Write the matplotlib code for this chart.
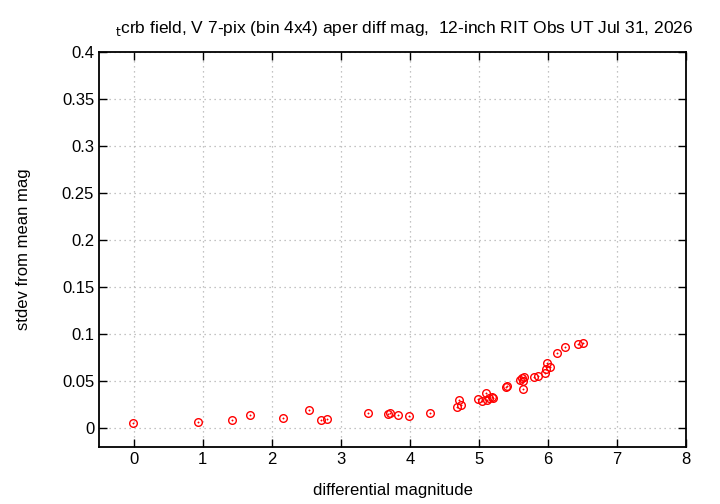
import matplotlib
matplotlib.use("Agg")
import matplotlib.pyplot as plt

plt.rcParams['font.family'] = ['Liberation Sans', 'DejaVu Sans']

diff_mag = [-0.01, 0.93, 1.43, 1.69, 2.17, 2.54, 2.72, 2.80,
            3.39, 3.69, 3.71, 3.83, 3.99, 4.30,
            4.69, 4.72, 4.74,
            4.99, 5.04, 5.10, 5.12, 5.15, 5.19, 5.21,
            5.40, 5.41,
            5.60, 5.63, 5.64, 5.65, 5.64,
            5.80, 5.85, 5.96, 5.97, 6.03, 5.99,
            6.13, 6.25, 6.44, 6.51]
stdev = [0.0056, 0.0067, 0.0085, 0.0135, 0.0103, 0.0195, 0.0085, 0.0096,
         0.0156, 0.0145, 0.0156, 0.0138, 0.0128, 0.0156,
         0.0227, 0.0298, 0.0245,
         0.0309, 0.0285, 0.0369, 0.0300, 0.0320, 0.0333, 0.0315,
         0.0439, 0.0445,
         0.0510, 0.0535, 0.0500, 0.0545, 0.0420,
         0.0546, 0.0553, 0.0581, 0.0624, 0.0646, 0.0695,
         0.0801, 0.0858, 0.0890, 0.0907]

xticks = [0, 1, 2, 3, 4, 5, 6, 7, 8]
yticks = [0, 0.05, 0.1, 0.15, 0.2, 0.25, 0.3, 0.35, 0.4]
ytick_labels = ['0', '0.05', '0.1', '0.15', '0.2', '0.25', '0.3', '0.35', '0.4']

fig = plt.figure(figsize=(7.2, 5.04), dpi=100)
ax = fig.add_axes([0.1375, 0.1135, 0.8153, 0.7833])

ax.plot(diff_mag, stdev, linestyle='none', marker='o', markersize=5.5,
        markerfacecolor='none', markeredgecolor='#ff0000', markeredgewidth=1.0)
ax.plot(diff_mag, stdev, linestyle='none', marker='o', markersize=1.0,
        markerfacecolor='#ff0000', markeredgecolor='#ff0000', markeredgewidth=0.3)

ax.set_xlim(-0.5, 8)
ax.set_ylim(-0.02, 0.4)
ax.set_xticks(xticks)
ax.set_xticklabels([str(t) for t in xticks])
ax.set_yticks(yticks)
ax.set_yticklabels(ytick_labels)
ax.tick_params(direction='in', top=True, right=True, labelsize=12, length=6, width=1)
ax.grid(True, color='#b0b0b0', linestyle=(0, (1, 3)), linewidth=0.9)
for s in ax.spines.values():
    s.set_linewidth(1.3)

ax.set_xlabel('differential magnitude', fontsize=12, labelpad=12)
ax.set_ylabel('stdev from mean mag', fontsize=12, labelpad=22)
fig.text(404 / 720, 1 - 28 / 504,
         r'$_{\mathrm{t}}$crb field, V 7-pix (bin 4x4) aper diff mag,  12-inch RIT Obs UT Jul 31, 2026',
         fontsize=12.5, ha='center', va='center')

fig.savefig('out.png', dpi=100)
